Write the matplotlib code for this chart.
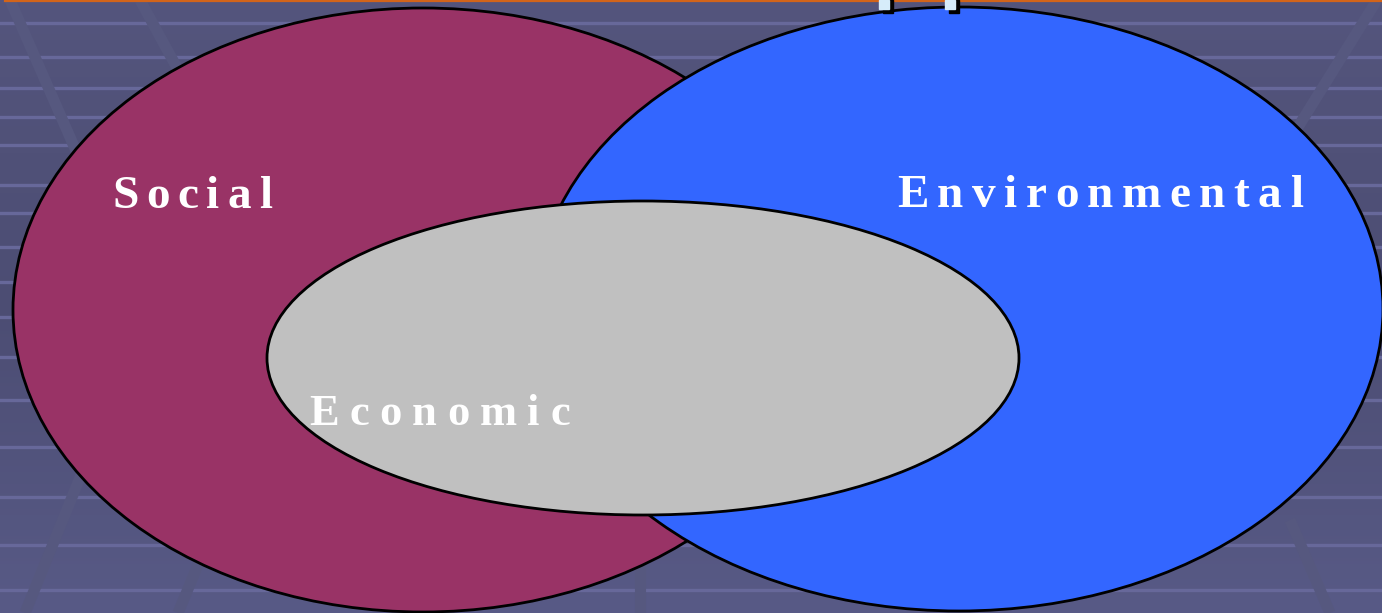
import matplotlib.pyplot as plt
import numpy as np
from matplotlib.patches import Ellipse, Rectangle
from matplotlib.colors import LinearSegmentedColormap

# ellipses (pixel coords, y down): name, centre x, centre y, half width, half height, colour
circles = ['Social', 'Environmental', 'Economic']
cx = [423, 959, 643]
cy = [310, 309, 358]
rx = [410, 424, 376]
ry = [302, 302, 157]
colors = ['#993366', '#3366ff', '#c0c0c0']

# labels: left x, baseline y, font size, total width in px
label_x = [112, 897, 309]
label_y = [208, 207, 425]
label_size = [34, 34, 32]
label_w = [160, 406, 261]

# background decoration
stripe_y = [23, 57, 88, 117, 145, 185, 213, 247, 282, 317, 357, 400, 447, 497, 545, 590]
diag = [((10, 0), (80, 160)), ((140, 0), (200, 110)), ((1377, 0), (1290, 140)),
        ((83, 470), (25, 613)), ((200, 560), (178, 613)), ((1290, 520), (1330, 613)),
        ((640, 560), (640, 613))]

W, H = 1382, 613
fig = plt.figure(figsize=(W / 100, H / 100), dpi=100)
ax = fig.add_axes([0, 0, 1, 1])
ax.set_xlim(0, W)
ax.set_ylim(H, 0)
ax.axis('off')

# background gradient
grad = np.linspace(0, 1, 200).reshape(-1, 1)
bg = LinearSegmentedColormap.from_list('bg', ['#54557d', '#4c4d73', '#585a86'])
ax.imshow(grad, extent=[0, W, H, 0], aspect='auto', zorder=0, cmap=bg)

for y in stripe_y:
    ax.plot([0, W], [y, y], color='#67689a', lw=2.4, zorder=1)
for (x0, y0), (x1, y1) in diag:
    ax.plot([x0, x1], [y0, y1], color='#56587f', lw=8, zorder=1.5,
            solid_capstyle='butt')

# top orange rule and clipped title fragments
ax.plot([5, W], [0.8, 0.8], color='#d2641a', lw=1.6, zorder=2)
for x in [879, 945]:
    ax.add_patch(Rectangle((x + 4, 0), 10, 13, color='black', zorder=6))
    ax.add_patch(Rectangle((x, 0), 10, 9, color='#d6ecfa', zorder=7))

for i in range(3):
    ax.add_patch(Ellipse((cx[i], cy[i]), 2 * rx[i], 2 * ry[i], facecolor=colors[i],
                         edgecolor='black', lw=2, zorder=3 + i))

# letter-spaced labels
fig.canvas.draw()
r = fig.canvas.get_renderer()
for i, name in enumerate(circles):
    kw = dict(fontsize=label_size[i], fontweight='bold', color='white',
              family='Liberation Serif', va='baseline', ha='left', zorder=10)
    widths = []
    for ch in name:
        t = ax.text(0, 0, ch, **kw)
        widths.append(t.get_window_extent(r).width)
        t.remove()
    gap = (label_w[i] - sum(widths)) / (len(name) - 1)
    x = label_x[i]
    for ch, w in zip(name, widths):
        ax.text(x, label_y[i], ch, **kw)
        x += w + gap

fig.savefig('out.png', dpi=100)
